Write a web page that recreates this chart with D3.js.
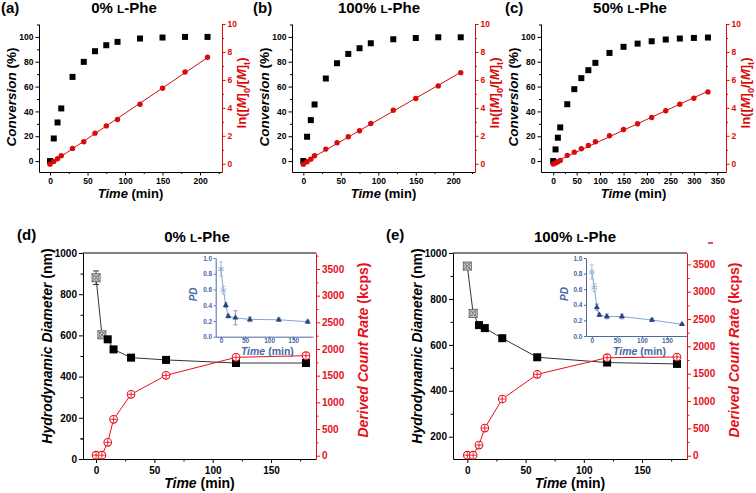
<!DOCTYPE html>
<html><head><meta charset="utf-8">
<script src="https://cdn.jsdelivr.net/npm/d3@7"></script>
<style>
body{margin:0;background:#fff}
svg{display:block}
</style>
</head><body>
<svg id="c" width="756" height="493"></svg>
<script>
// ---------------- DATA ----------------
const timeAB = [0, 5, 10, 15, 30, 45, 60, 75, 90, 120, 150, 180, 210];
const convA = [0, 18.2, 31.1, 42.4, 67.8, 79.9, 88.5, 93.3, 96.0, 98.7, 99.5, 100, 100];
const lnA   = [-0.03, 0.17, 0.36, 0.57, 1.10, 1.57, 2.19, 2.71, 3.17, 4.26, 5.40, 6.57, 7.62];
const convB = [0, 19.6, 33.0, 45.6, 66.5, 78.8, 86.3, 90.9, 94.9, 98.1, 99.1, 99.7, 99.7];
const lnB   = [-0.03, 0.14, 0.33, 0.57, 1.05, 1.50, 1.93, 2.36, 2.88, 3.83, 4.67, 5.57, 6.52];
const timeC = [0, 5, 10, 15, 30, 45, 60, 75, 90, 120, 150, 180, 210, 240, 270, 300, 330];
const convC = [0, 9.4, 18.8, 27.1, 45.8, 57.9, 66.8, 73.2, 79.1, 87.1, 92.0, 94.6, 96.5, 97.9, 98.7, 99.2, 99.5];
const lnC   = [-0.02, 0.05, 0.14, 0.24, 0.60, 0.83, 1.07, 1.31, 1.57, 2.00, 2.45, 2.86, 3.31, 3.79, 4.26, 4.69, 5.14];

const timeDLS = [0, 5, 10, 15, 30, 60, 120, 180];
const diamD    = [880, 603, 581, 532, 492, 481, 466, 466];
const diamErrD = [33, 10, 0, 0, 0, 0, 0, 0];
const rateD    = [10, 10, 250, 681, 1150, 1506, 1844, 1875];
const pdD      = [0.86, 0.59, 0.40, 0.26, 0.24, 0.22, 0.215, 0.19];
const pdErrD   = [0.09, 0.05, 0.03, 0.02, 0.09, 0.03, 0.02, 0.02];
const diamE    = [943, 737, 686, 673, 629, 546, 523, 517];
const diamErrE = [12, 10, 0, 0, 0, 0, 0, 0];
const rateE    = [10, 10, 195, 506, 1037, 1488, 1793, 1805];
const pdE      = [0.82, 0.62, 0.37, 0.27, 0.25, 0.25, 0.205, 0.15];
const pdErrE   = [0.09, 0.05, 0.04, 0.02, 0.03, 0.03, 0.02, 0.01];

const convTicks = [0, 20, 40, 60, 80, 100];
const lnTicks = [0, 2, 4, 6, 8, 10];
const xTicksAB = [0, 50, 100, 150, 200];
const xTicksC = [0, 50, 100, 150, 200, 250, 300, 350];
const dlsTimeTicks = [0, 50, 100, 150];
const rateTicks = [0, 500, 1000, 1500, 2000, 2500, 3000, 3500];
const diamTicksD = [0, 200, 400, 600, 800, 1000];
const diamTicksE = [200, 400, 600, 800, 1000];
const pdTicks = [0, 0.2, 0.4, 0.6, 0.8, 1.0];

// ---------------- HELPERS ----------------
const FONT = '"Liberation Sans", Arial, Helvetica, sans-serif';
const RED_T = '#d80a0a';
const RED_B = '#e8101a';
const BLUE = '#4a68a4';
const BLUE_DARK = '#26457f';
const BLUE_LIGHT = '#8aa3d0';
const fmtInt = d3.format('d');
const svg = d3.select('#c');

function axis(parent, gen, transform, color, fs, minor) {
  const g = parent.append('g').attr('transform', transform).call(gen);
  g.attr('font-family', FONT).attr('font-size', fs).attr('font-weight', 'bold');
  g.selectAll('path,line').attr('stroke', color).attr('stroke-width', 1);
  g.selectAll('text').attr('fill', color);
  if (minor) g.select('path.domain').remove();
  return g;
}

function rich(parent, x, y, parts, opts) {
  const fs = opts.size;
  const t = parent.append('text')
    .attr('font-family', FONT).attr('font-weight', 'bold')
    .attr('font-size', fs).attr('fill', opts.color || '#000')
    .attr('text-anchor', 'middle')
    .attr('transform', `translate(${x},${y})` + (opts.rotate ? ` rotate(${opts.rotate})` : ''));
  let shift = 0;
  parts.forEach(p => {
    const ts = t.append('tspan').text(p.t);
    if (p.italic) ts.attr('font-style', 'italic');
    let target = 0;
    if (p.sub) { ts.attr('font-size', fs * 0.7); target = fs * 0.3; }
    if (p.small) ts.attr('font-size', fs * 0.78);
    if (target !== shift) { ts.attr('dy', target - shift); shift = target; }
  });
  t.attr('dy', '0.35em');
  return t;
}

function linfit(xs, ys) {
  const mx = d3.mean(xs), my = d3.mean(ys);
  let sxy = 0, sxx = 0;
  xs.forEach((x, i) => { sxy += (x - mx) * (ys[i] - my); sxx += (x - mx) * (x - mx); });
  const m = sxy / sxx;
  return { m, b: my - m * mx };
}

function mids(ticks, step, max) {
  const out = [];
  ticks.forEach(t => { if (t + step / 2 <= max) out.push(t + step / 2); });
  return out;
}

// ---------------- TOP PANELS ----------------
const TOP_T = 24, TOP_B = 172;
const convDomain = [-8.8, 110.4];
const lnDomain = [-0.59, 10];

function titleText(parent, x, y, pct, size) {
  rich(parent, x, y, [{ t: pct + ' ' }, { t: 'L', small: true }, { t: '-Phe' }], { size });
}

function drawTop(p) {
  const g = svg.append('g');
  const x = d3.scaleLinear().domain(p.xDomain).range([p.left, p.right]);
  const yL = d3.scaleLinear().domain(convDomain).range([TOP_B, TOP_T]);
  const yR = d3.scaleLinear().domain(lnDomain).range([TOP_B, TOP_T]);

  axis(g, d3.axisBottom(x).tickValues(mids(p.xTicks, p.xTicks[1], p.xDomain[1])).tickSize(2).tickFormat('').tickSizeOuter(0), `translate(0,${TOP_B})`, '#000', 8, true);
  axis(g, d3.axisBottom(x).tickValues(p.xTicks).tickSize(3.5).tickPadding(2).tickSizeOuter(0), `translate(0,${TOP_B})`, '#000', 8.5);
  axis(g, d3.axisLeft(yL).tickValues(mids(convTicks, 20, 110)).tickSize(2).tickFormat('').tickSizeOuter(0), `translate(${p.left},0)`, '#000', 8, true);
  axis(g, d3.axisLeft(yL).tickValues(convTicks).tickSize(3.5).tickPadding(2).tickSizeOuter(0), `translate(${p.left},0)`, '#000', 8.5);
  axis(g, d3.axisRight(yR).tickValues(mids(lnTicks, 2, 10)).tickSize(2).tickFormat('').tickSizeOuter(0), `translate(${p.right},0)`, RED_T, 8, true);
  axis(g, d3.axisRight(yR).tickValues(lnTicks).tickSize(3.5).tickPadding(2).tickSizeOuter(0), `translate(${p.right},0)`, RED_T, 8.5);

  // fit line
  const f = linfit(p.time, p.ln);
  const t0 = 0, t1 = d3.max(p.time);
  g.append('line')
    .attr('x1', x(t0)).attr('y1', yR(f.m * t0 + f.b))
    .attr('x2', x(t1)).attr('y2', yR(f.m * t1 + f.b))
    .attr('stroke', RED_T).attr('stroke-width', 1);

  g.selectAll('rect.cv').data(p.time).join('rect')
    .attr('x', (d) => x(d) - 3).attr('y', (d, i) => yL(p.conv[i]) - 3)
    .attr('width', 6).attr('height', 6).attr('fill', '#000');
  g.selectAll('circle.ln').data(p.time).join('circle')
    .attr('cx', d => x(d)).attr('cy', (d, i) => yR(p.ln[i]))
    .attr('r', 2.7).attr('fill', RED_T);

  // labels
  rich(g, p.left - 28, 97, [{ t: 'Conversion', italic: true }, { t: ' (%)' }], { size: 13.5, rotate: -90 });
  rich(g, p.right + 19.5, 93, [
    { t: 'ln([' }, { t: 'M', italic: true }, { t: ']' }, { t: '0', sub: true },
    { t: '/[' }, { t: 'M', italic: true }, { t: ']' }, { t: 't', sub: true }, { t: ')' }
  ], { size: 13, color: RED_T, rotate: -90 });
  rich(g, (p.left + p.right) / 2, 193, [{ t: 'Time', italic: true }, { t: ' (min)' }], { size: 13 });
  titleText(g, p.titleX, 8, p.pct, 15);
  g.append('text').attr('x', p.labelX).attr('y', 13).attr('font-family', FONT)
    .attr('font-weight', 'bold').attr('font-size', 15).text(p.tag);
}

drawTop({ left: 39, right: 222, xDomain: [-14.7, 229.3], xTicks: xTicksAB, time: timeAB, conv: convA, ln: lnA, pct: '0%', titleX: 124, tag: '(a)', labelX: 1 });
drawTop({ left: 292, right: 475, xDomain: [-15.1, 229], xTicks: xTicksAB, time: timeAB, conv: convB, ln: lnB, pct: '100%', titleX: 379, tag: '(b)', labelX: 253 });
drawTop({ left: 541, right: 726, xDomain: [-26, 368.5], xTicks: xTicksC, time: timeC, conv: convC, ln: lnC, pct: '50%', titleX: 630, tag: '(c)', labelX: 505 });

// ---------------- BOTTOM PANELS ----------------
const BOT_T = 253, BOT_B = 459;

function drawBottom(p) {
  const g = svg.append('g');
  const x = d3.scaleLinear().domain(p.xDomain).range([p.left, p.right]);
  const yL = d3.scaleLinear().domain(p.yLDomain).range([BOT_B, BOT_T]);
  const yR = d3.scaleLinear().domain(p.yRDomain).range([BOT_B, BOT_T]);

  // top border
  g.append('line').attr('x1', p.left).attr('x2', p.right).attr('y1', BOT_T).attr('y2', BOT_T).attr('stroke', '#000');

  axis(g, d3.axisBottom(x).tickValues([25, 75, 125, 175]).tickSize(2.5).tickFormat('').tickSizeOuter(0), `translate(0,${BOT_B})`, '#000', 10, true);
  axis(g, d3.axisBottom(x).tickValues(dlsTimeTicks).tickSize(4).tickPadding(3.5).tickSizeOuter(0), `translate(0,${BOT_B})`, '#000', 10);
  axis(g, d3.axisLeft(yL).tickValues(mids(p.yLTicks, 200, 1000).concat(p.yLDomain[0] < 100 ? [100] : [])).tickSize(2.5).tickFormat('').tickSizeOuter(0), `translate(${p.left},0)`, '#000', 10, true);
  axis(g, d3.axisLeft(yL).tickValues(p.yLTicks).tickFormat(fmtInt).tickSize(4).tickPadding(2).tickSizeOuter(0), `translate(${p.left},0)`, '#000', 10);
  axis(g, d3.axisRight(yR).tickValues(mids(rateTicks, 500, p.yRDomain[1])).tickSize(2.5).tickFormat('').tickSizeOuter(0), `translate(${p.right},0)`, RED_B, 10, true);
  axis(g, d3.axisRight(yR).tickValues(rateTicks).tickFormat(fmtInt).tickSize(4).tickPadding(2).tickSizeOuter(0), `translate(${p.right},0)`, RED_B, 10);

  const pts = p.time.map((t, i) => ({ t, d: p.diam[i], e: p.diamErr[i], r: p.rate[i], i }));

  // black line
  g.append('path').datum(pts)
    .attr('d', d3.line().x(d => x(d.t)).y(d => yL(d.d)))
    .attr('fill', 'none').attr('stroke', '#333').attr('stroke-width', 1);
  // error bars
  pts.filter(d => d.e > 0).forEach(d => {
    const cx = x(d.t);
    g.append('line').attr('x1', cx).attr('x2', cx).attr('y1', yL(d.d - d.e)).attr('y2', yL(d.d + d.e)).attr('stroke', '#333');
    [d.d - d.e, d.d + d.e].forEach(v => g.append('line').attr('x1', cx - 3).attr('x2', cx + 3).attr('y1', yL(v)).attr('y2', yL(v)).attr('stroke', '#333'));
  });
  // markers
  pts.forEach(d => {
    const cx = x(d.t), cy = yL(d.d);
    if (d.i < 2) {
      g.append('rect').attr('x', cx - 4).attr('y', cy - 4).attr('width', 8).attr('height', 8)
        .attr('fill', '#e6e6e6').attr('stroke', '#666').attr('stroke-width', 1);
      g.append('path').attr('d', `M${cx - 4},${cy - 4}L${cx + 4},${cy + 4}M${cx + 4},${cy - 4}L${cx - 4},${cy + 4}`)
        .attr('stroke', '#555').attr('stroke-width', 0.9);
      g.append('circle').attr('cx', cx).attr('cy', cy).attr('r', 2.6).attr('fill', 'none').attr('stroke', '#666').attr('stroke-width', 0.8);
    } else {
      g.append('rect').attr('x', cx - 4).attr('y', cy - 4).attr('width', 8).attr('height', 8).attr('fill', '#000');
    }
  });

  // red line and circles
  g.append('path').datum(pts)
    .attr('d', d3.line().x(d => x(d.t)).y(d => yR(d.r)))
    .attr('fill', 'none').attr('stroke', RED_B).attr('stroke-width', 1);
  pts.forEach(d => {
    const cx = x(d.t), cy = yR(d.r);
    g.append('circle').attr('cx', cx).attr('cy', cy).attr('r', 3.8).attr('fill', '#fff')
      .attr('stroke', RED_B).attr('stroke-width', 1.1);
    g.append('path').attr('d', `M${cx - 3},${cy}L${cx + 3},${cy}M${cx},${cy - 3}L${cx},${cy + 3}`)
      .attr('stroke', RED_B).attr('stroke-width', 0.9);
  });

  // inset
  const ix = d3.scaleLinear().domain(p.inset.xDomain).range([p.inset.left, p.inset.right]);
  const iy = d3.scaleLinear().domain([0, 1]).range([p.inset.bottom, p.inset.top]);
  const ig = g.append('g');
  ig.append('rect').attr('x', p.inset.left).attr('y', p.inset.top - 3)
    .attr('width', p.inset.right - p.inset.left).attr('height', p.inset.bottom - p.inset.top + 3).attr('fill', '#fff');
  axis(ig, d3.axisBottom(ix).tickValues(dlsTimeTicks).tickSize(2).tickPadding(0).tickSizeOuter(0), `translate(0,${p.inset.bottom})`, BLUE, 6.5);
  axis(ig, d3.axisLeft(iy).tickValues(pdTicks).tickFormat(d3.format('.1f')).tickSize(2).tickPadding(1.5).tickSizeOuter(0), `translate(${p.inset.left},0)`, BLUE, 6.5);
  const ipts = p.time.map((t, i) => ({ t, v: p.pd[i], e: p.pdErr[i], i }));
  ig.append('path').datum(ipts)
    .attr('d', d3.line().x(d => ix(d.t)).y(d => iy(d.v)))
    .attr('fill', 'none').attr('stroke', BLUE_LIGHT).attr('stroke-width', 1);
  ipts.forEach(d => {
    const cx = ix(d.t);
    const c = d.i < 2 ? '#9aaed4' : '#6a82b4';
    ig.append('line').attr('x1', cx).attr('x2', cx).attr('y1', iy(d.v - d.e)).attr('y2', iy(d.v + d.e)).attr('stroke', c).attr('stroke-width', 0.8);
    [d.v - d.e, d.v + d.e].forEach(v => ig.append('line').attr('x1', cx - 2).attr('x2', cx + 2).attr('y1', iy(v)).attr('y2', iy(v)).attr('stroke', c).attr('stroke-width', 0.8));
  });
  ipts.forEach(d => {
    const cx = ix(d.t), cy = iy(d.v);
    if (d.i < 2) {
      ig.append('path').attr('d', d3.symbol(d3.symbolAsterisk, 30)()).attr('transform', `translate(${cx},${cy})`)
        .attr('fill', 'none').attr('stroke', '#9fb3da').attr('stroke-width', 1.1);
    } else {
      ig.append('path').attr('d', d3.symbol(d3.symbolTriangle, 16)()).attr('transform', `translate(${cx},${cy})`)
        .attr('fill', BLUE_DARK);
    }
  });
  rich(ig, p.inset.left - 22, (p.inset.top + p.inset.bottom) / 2 - 3, [{ t: 'PD', italic: true }], { size: 10, color: BLUE, rotate: -90 });
  rich(ig, (p.inset.left + p.inset.right) / 2 + 3, 351.5, [{ t: 'Time', italic: true }, { t: ' (min)' }], { size: 10.5, color: BLUE });

  // labels
  rich(g, p.left - 36, 346, [{ t: 'Hydrodynamic Diameter', italic: true }, { t: ' (nm)' }], { size: 14, rotate: -90 });
  rich(g, p.right + 47, 350, [{ t: 'Derived Count Rate', italic: true }, { t: ' (kcps)' }], { size: 14, color: RED_B, rotate: -90 });
  rich(g, (p.left + p.right) / 2, 483, [{ t: 'Time', italic: true }, { t: ' (min)' }], { size: 14 });
  titleText(g, p.titleX, 236.5, p.pct, 15);
  g.append('text').attr('x', p.labelX).attr('y', 240).attr('font-family', FONT)
    .attr('font-weight', 'bold').attr('font-size', 15).text(p.tag);
}

drawBottom({
  left: 83, right: 316, xDomain: [-11.2, 188.6], yLDomain: [0, 1000], yLTicks: diamTicksD, yRDomain: [-62, 3800],
  time: timeDLS, diam: diamD, diamErr: diamErrD, rate: rateD, pd: pdD, pdErr: pdErrD,
  inset: { left: 215.7, right: 313, top: 258, bottom: 336.7, xDomain: [-11, 191] },
  pct: '0%', titleX: 197, tag: '(d)', labelX: 17
});
drawBottom({
  left: 453, right: 687, xDomain: [-12.3, 188.6], yLDomain: [103, 1000], yLTicks: diamTicksE, yRDomain: [-60, 3708],
  time: timeDLS, diam: diamE, diamErr: diamErrE, rate: rateE, pd: pdE, pdErr: pdErrE,
  inset: { left: 586, right: 687, top: 258, bottom: 336, xDomain: [-11.7, 190] },
  pct: '100%', titleX: 575, tag: '(e)', labelX: 386
});
// small red artifact mark near top right of panel (e)
svg.append('line').attr('x1', 708).attr('x2', 713).attr('y1', 243).attr('y2', 243).attr('stroke', RED_B).attr('stroke-width', 1.5);
</script>
</body></html>
